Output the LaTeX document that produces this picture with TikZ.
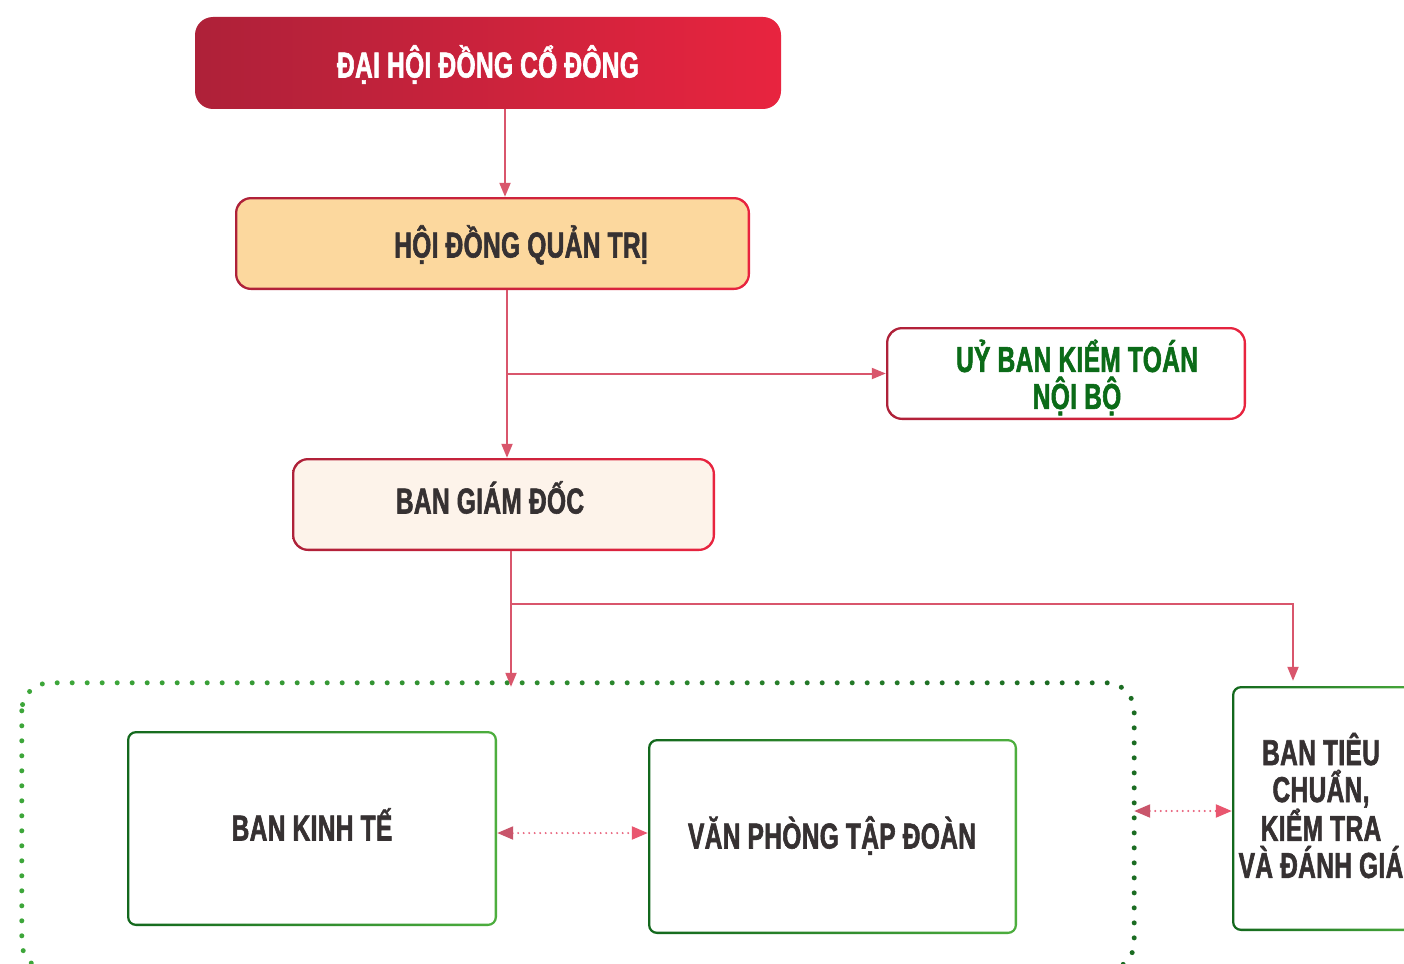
\documentclass[tikz,border=0pt]{standalone}
\usepackage{fontspec}
\newfontfamily\condf{Liberation Sans Bold}[FakeStretch=0.68, FakeBold=1.6, LetterSpace=1]
\usetikzlibrary{arrows.meta,calc}
\definecolor{redL}{HTML}{AE2139}
\definecolor{redR}{HTML}{E8243F}
\definecolor{hdfill}{HTML}{FCD89E}
\definecolor{bgfill}{HTML}{FDF3EA}
\definecolor{grL}{HTML}{13681D}
\definecolor{grR}{HTML}{4DAE3E}
\definecolor{ink}{HTML}{363132}
\definecolor{gtext}{HTML}{0B6B18}
\definecolor{conn}{HTML}{D9566C}
\definecolor{dotc}{HTML}{E8607A}
\definecolor{tipL}{HTML}{C9556B}
\definecolor{tipR}{HTML}{E9566F}
\definecolor{dgL}{HTML}{1B6B22}
\definecolor{dgR}{HTML}{3DA63A}
\newcommand\innerfill[3]{\fill[#2, rounded corners=#3] ($(#1.south west)+(2.5,-2.5)$) rectangle ($(#1.north east)+(-2.5,2.5)$);}
\begin{document}
\begin{tikzpicture}[x=1pt,y=-1pt,
  txt/.style={font=\condf\fontsize{36}{37}\selectfont, text=ink, align=center, inner sep=0pt},
  one/.style={text height=26pt, text depth=0pt},
  redbox/.style={shade, left color=redL, right color=redR, inner sep=0pt},
  grbox/.style={shade, left color=grL, right color=grR, inner sep=0pt, rounded corners=9pt},
  arr/.style={draw=conn, line width=2pt, -{Triangle[length=14pt, width=11pt]}},
  dar/.style={draw=dotc, line width=2.2pt, line cap=round, dash pattern=on 0pt off 5.5pt,
    {Triangle[length=16pt, width=13pt, color=tipL]}-{Triangle[length=16pt, width=13pt, color=tipR]}}
]
\useasboundingbox (0,0) rectangle (1404,963);
\clip (0,0) rectangle (1404,963);
\fill[white] (0,0) rectangle (1404,963);

% boxes
\node[redbox, rounded corners=18pt, minimum width=586pt, minimum height=92pt] (dh) at (488,63) {};
\node[redbox, rounded corners=16pt, minimum width=515pt, minimum height=93pt] (hd) at (492.5,243.5) {};
\innerfill{hd}{hdfill}{14pt}
\node[redbox, rounded corners=16pt, minimum width=360pt, minimum height=93pt] (ub) at (1066,373.5) {};
\innerfill{ub}{white}{14pt}
\node[redbox, rounded corners=16pt, minimum width=423pt, minimum height=93pt] (bg) at (503.5,504.5) {};
\innerfill{bg}{bgfill}{14pt}

\node[grbox, minimum width=370pt, minimum height=195pt] (bk) at (312,828.5) {};
\innerfill{bk}{white}{7pt}
\node[grbox, minimum width=369pt, minimum height=195pt] (vp) at (832.5,836.5) {};
\innerfill{vp}{white}{7pt}
\node[grbox, minimum width=200pt, minimum height=245pt] (bt) at (1332,808.5) {};
\innerfill{bt}{white}{7pt}

% dotted group
\node[inner sep=0pt, minimum width=1112pt, minimum height=287pt] (dt) at (578,826.5) {};
\foreach \i in {0,...,9}{
  \pgfmathsetmacro\p{100-\i*11}
  \begin{scope}
    \clip (14+\i*113,660) rectangle ++(113,320);
    \draw[dgR!\p!dgL, line width=5pt, line cap=round, dash pattern=on 0pt off 15pt, rounded corners=28pt]
      (dt.north west) rectangle (dt.south east);
  \end{scope}
}

% texts
\node[txt, one, text=white] at (488,64.5) {ĐẠI HỘI ĐỒNG CỔ ĐÔNG};
\node[txt, one] at (521,244.5) {HỘI ĐỒNG QUẢN TRỊ};
\node[txt, text=gtext] at (1077,377.5) {UỶ BAN KIỂM TOÁN\\NỘI BỘ};
\node[txt, one] at (490,500.5) {BAN GIÁM ĐỐC};
\node[txt, one] at (312,827.5) {BAN KINH TẾ};
\node[txt, one] at (832,835.5) {VĂN PHÒNG TẬP ĐOÀN};
\node[txt] at (1321,805.5) {BAN TIÊU\\CHUẨN,\\KIỂM TRA\\VÀ ĐÁNH GIÁ};

% connectors
\coordinate (c1) at (505,0);
\coordinate (c2) at (507,0);
\coordinate (c3) at (511,0);
\coordinate (c4) at (1293,0);
\coordinate (j1) at (511,604);
\coordinate (h1) at (0,833);
\coordinate (h2) at (0,811);
\draw[arr] (dh.south -| c1) -- (hd.north -| c1);
\draw[arr] (hd.south -| c2) -- (bg.north -| c2);
\draw[arr] (c2 |- ub.west) -- (ub.west);
\draw[arr] (bg.south -| c3) -- ([yshift=-4pt]dt.north -| c3);
\draw[arr, shorten >=5pt] (j1) -| (bt.north -| c4);
\draw[dar] (bk.east |- h1) -- (vp.west |- h1);
\draw[dar] (dt.east |- h2) -- (bt.west |- h2);
\end{tikzpicture}
\end{document}
